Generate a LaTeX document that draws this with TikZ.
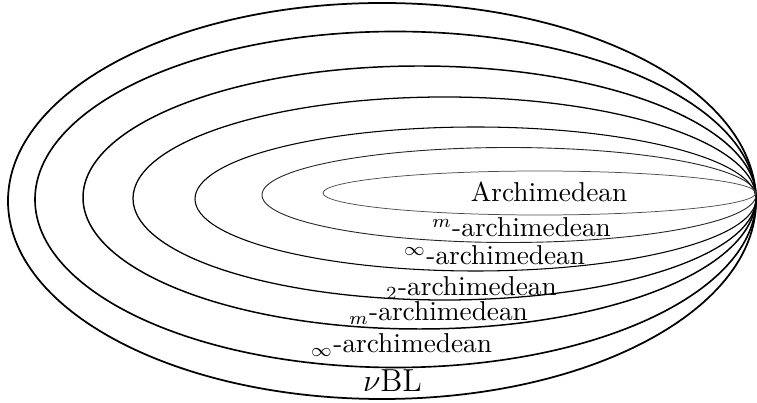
\documentclass[tikz,border=0pt]{standalone}
\usepackage{amsmath}
\begin{document}
\begin{tikzpicture}[x=0.377pt, y=-0.377pt,
  ring/.style={draw=black, line width=#1},
  lbl/.style={anchor=base, inner sep=0pt, font=\fontsize{10.3}{12}\selectfont}]
  \useasboundingbox (0,0) rectangle (757,403);
  % nested classes, all sharing the right-hand tip
  \draw[ring=0.66pt] (382,201) ellipse [x radius=374, y radius=198];
  \draw[ring=0.62pt] (395.5,199.5) ellipse [x radius=360.5, y radius=168];
  \draw[ring=0.56pt] (419.5,197.5) ellipse [x radius=336.5, y radius=131.5];
  \draw[ring=0.48pt] (444.5,198.5) ellipse [x radius=311.5, y radius=101.5];
  \draw[ring=0.40pt] (475.5,199) ellipse [x radius=280.5, y radius=72];
  \draw[ring=0.34pt, draw=black!85] (509,195) ellipse [x radius=247, y radius=47.5];
  \draw[ring=0.28pt, draw=black!70] (539.5,193) ellipse [x radius=216.5, y radius=22];
  % class names
  \node[lbl] (arch) at (549,202) {Archimedean};
  \node[lbl] (msup) at (521.5,237) {$^m$-archimedean};
  \node[lbl] (isup) at (494.5,265) {$^\infty$-archimedean};
  \node[lbl] (tsub) at (471.5,295.5) {$_2$-archimedean};
  \node[lbl] (msub) at (438.5,321) {$_m$-archimedean};
  \node[lbl] (isub) at (401.5,353) {$_\infty$-archimedean};
  \node[lbl, font=\large] (nubl) at (392.5,392) {$\nu$BL};
\end{tikzpicture}
\end{document}
